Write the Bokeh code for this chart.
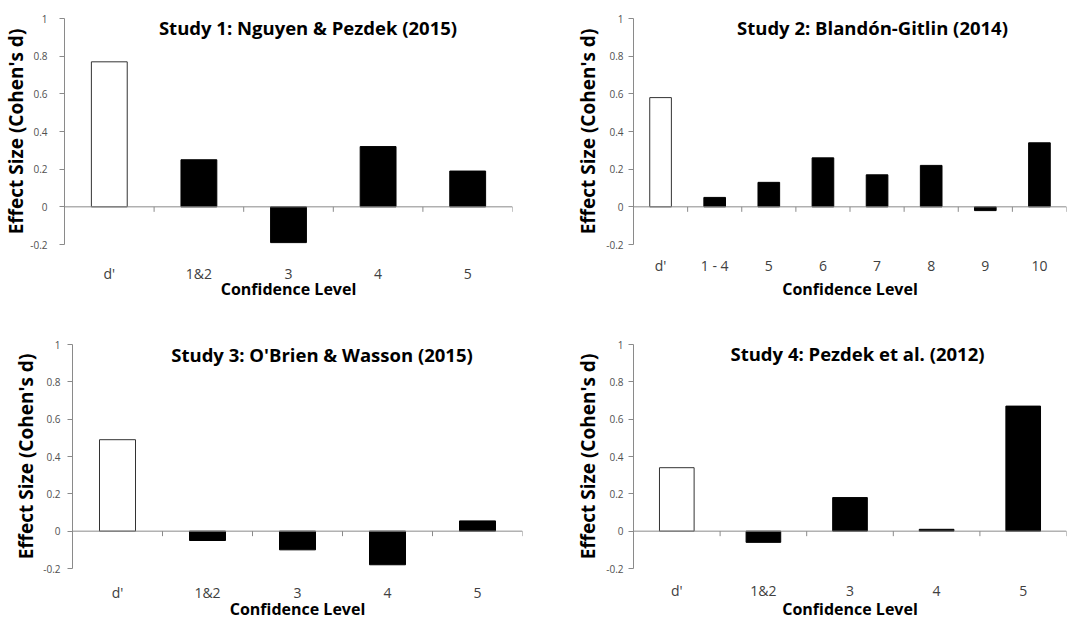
from bokeh.plotting import figure
from bokeh.layouts import column, row
from bokeh.models import Range1d, FixedTicker, CustomJSTickFormatter, Label, Span, ColumnDataSource
from bokeh.embed import file_html
from bokeh.resources import INLINE

# ---- data ----
titles = [
    "Study 1: Nguyen & Pezdek (2015)",
    "Study 2: Blandón-Gitlin (2014)",
    "Study 3: O'Brien & Wasson (2015)",
    "Study 4: Pezdek et al. (2012)",
]
cats1 = ["d'", "1&2", "3", "4", "5"]
vals1 = [0.77, 0.25, -0.19, 0.32, 0.19]
cats2 = ["d'", "1 - 4", "5", "6", "7", "8", "9", "10"]
vals2 = [0.58, 0.05, 0.13, 0.26, 0.17, 0.22, -0.02, 0.34]
cats3 = ["d'", "1&2", "3", "4", "5"]
vals3 = [0.49, -0.05, -0.10, -0.18, 0.055]
cats4 = ["d'", "1&2", "3", "4", "5"]
vals4 = [0.34, -0.06, 0.18, 0.01, 0.67]
y_ticks = [-0.2, 0, 0.2, 0.4, 0.6, 0.8, 1]
x_label = "Confidence Level"
y_label = "Effect Size (Cohen's d)"

FONT = "Open Sans"
AXIS_GRAY = "#8a8a8a"
TEXT_GRAY = "#404040"


def make_panel(title, cats, vals, w, h, bl, br, bt, bb,
               xtick_standoff, xlabel_standoff, ytick_standoff, ylabel_standoff,
               title_px, title_py):
    n = len(cats)
    ymin, ymax = y_ticks[0], y_ticks[-1]
    p = figure(width=w, height=h, output_backend="svg", toolbar_location=None,
               x_range=Range1d(0, n), y_range=Range1d(ymin, ymax),
               min_border_left=bl, min_border_right=br, min_border_top=bt, min_border_bottom=bb)
    p.outline_line_color = None
    p.xgrid.visible = False
    p.ygrid.visible = False
    p.background_fill_color = "white"
    p.border_fill_color = "white"

    fw = w - bl - br
    fh = h - bt - bb
    px_per_y = fh / (ymax - ymin)

    src = ColumnDataSource(dict(
        x=[i + 0.5 for i in range(n)],
        top=vals,
        fill=["white" if c == "d'" else "black" for c in cats],
        line=["#333333" if c == "d'" else "black" for c in cats],
    ))
    p.vbar(x="x", width=0.4, top="top", bottom=0, fill_color="fill", line_color="line",
           line_width=1, source=src)

    # category axis line at zero with tick marks at category boundaries
    p.add_layout(Span(location=0, dimension="width", line_color=AXIS_GRAY, line_width=1))
    bx = list(range(1, n + 1))
    p.segment(x0=bx, y0=[0] * n, x1=bx, y1=[-5 / px_per_y] * n, line_color=AXIS_GRAY, line_width=1)

    # y axis
    ya = p.yaxis[0]
    ya.ticker = FixedTicker(ticks=y_ticks)
    ya.formatter = CustomJSTickFormatter(code="return Number(tick.toFixed(1)).toString()")
    ya.axis_line_color = AXIS_GRAY
    ya.major_tick_line_color = AXIS_GRAY
    ya.major_tick_out = 5
    ya.major_tick_in = 0
    ya.minor_tick_line_color = None
    ya.major_label_text_font = FONT
    ya.major_label_text_font_size = "10px"
    ya.major_label_text_color = "#505050"
    ya.major_label_standoff = ytick_standoff
    ya.axis_label = y_label
    ya.axis_label_text_font = FONT
    ya.axis_label_text_font_style = "bold"
    ya.axis_label_text_font_size = "19px"
    ya.axis_label_text_color = "black"
    ya.axis_label_standoff = ylabel_standoff

    # x axis (labels only)
    xa = p.xaxis[0]
    xa.ticker = FixedTicker(ticks=[i + 0.5 for i in range(n)])
    xa.formatter = CustomJSTickFormatter(args=dict(labels=cats),
                                         code="return labels[Math.floor(tick)]")
    xa.axis_line_color = None
    xa.major_tick_line_color = None
    xa.major_tick_out = 0
    xa.major_tick_in = 0
    xa.minor_tick_line_color = None
    xa.major_label_text_font = FONT
    xa.major_label_text_font_size = "14px"
    xa.major_label_text_color = TEXT_GRAY
    xa.major_label_standoff = xtick_standoff
    xa.axis_label = x_label
    xa.axis_label_text_font = FONT
    xa.axis_label_text_font_style = "bold"
    xa.axis_label_text_font_size = "16px"
    xa.axis_label_text_color = "black"
    xa.axis_label_standoff = xlabel_standoff

    # title inside plot area
    tx = title_px / (fw / n)
    ty = ymax - title_py / px_per_y
    p.add_layout(Label(x=tx, y=ty, text=title, text_align="center", text_baseline="middle",
                       text_font=FONT, text_font_style="bold", text_font_size="18.5px",
                       text_color="black"))
    return p


p1 = make_panel(titles[0], cats1, vals1, 540, 310, 64, 28, 18, 66, 19, -8, 12, -2, 243.5, 8.5)
p2 = make_panel(titles[1], cats2, vals2, 543, 310, 93, 17, 18, 66, 11, 0, 5, 2, 239, 8.5)
p3 = make_panel(titles[2], cats3, vals3, 540, 312, 72, 18, 34, 54, 14, -7, 7, 1, 249.5, 10)
p4 = make_panel(titles[3], cats4, vals4, 543, 312, 93, 17, 34, 54, 12, -5, 5, 2, 224, 9)

layout = column(row(p1, p2), row(p3, p4))
open("out.html", "w").write(file_html(layout, INLINE))
